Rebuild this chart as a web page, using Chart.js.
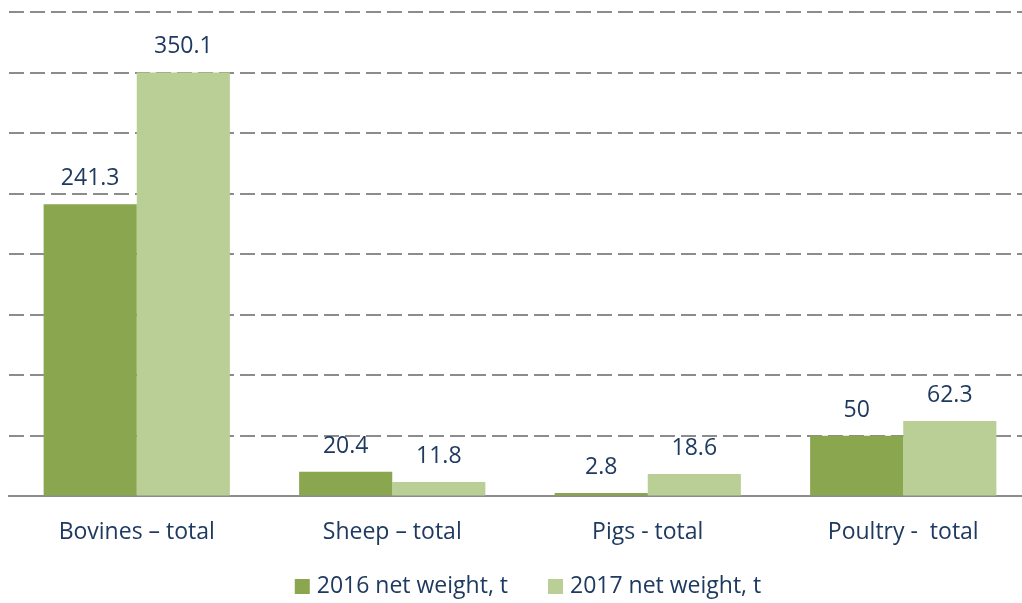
<!DOCTYPE html>
<html>
<head>
<meta charset="utf-8">
<script src="https://cdn.jsdelivr.net/npm/chart.js@4"></script>
<style>
  html, body { margin: 0; padding: 0; background: #fff; overflow: hidden; }
  #wrap { width: 1032px; height: 603px; }
</style>
</head>
<body>
<div id="wrap"><canvas id="chart"></canvas></div>
<script>
const categories = ["Bovines \u2013 total", "Sheep \u2013 total", "Pigs - total", "Poultry -  total"];
const seriesNames = ["2016 net weight, t", "2017 net weight, t"];
const values2016 = [241.3, 20.4, 2.8, 50];
const values2017 = [350.1, 11.8, 18.6, 62.3];

const textColor = "#1f3a60";
const fontFamily = "'Open Sans', Lato, sans-serif";
const seriesColors = ["#8aa64f", "#b9cf96"];

// draws the value above each bar
const valueLabels = {
  id: "valueLabels",
  afterDatasetsDraw(chart) {
    const ctx = chart.ctx;
    ctx.save();
    ctx.fillStyle = textColor;
    ctx.font = "23px " + fontFamily;
    ctx.textAlign = "center";
    ctx.textBaseline = "alphabetic";
    chart.data.datasets.forEach((ds, i) => {
      chart.getDatasetMeta(i).data.forEach((bar, j) => {
        ctx.fillText(String(ds.data[j]), bar.x, bar.y - 19);
      });
    });
    ctx.restore();
  }
};

// simple legend row under the axis (built-in one can't do the spacing)
const bottomLegend = {
  id: "bottomLegend",
  afterDraw(chart) {
    const ctx = chart.ctx;
    const box = 15, gap = 7, itemGap = 40;
    ctx.save();
    ctx.font = "23px " + fontFamily;
    ctx.textBaseline = "middle";
    const items = chart.data.datasets.map(ds => ({
      label: ds.label, color: ds.backgroundColor, w: ctx.measureText(ds.label).width
    }));
    let total = items.reduce((s, it) => s + box + gap + it.w, 0) + itemGap * (items.length - 1);
    let x = 528 - total / 2;
    const y = 586;
    items.forEach(it => {
      ctx.fillStyle = it.color;
      ctx.fillRect(x, y - 7, box, box);
      x += box + gap;
      ctx.fillStyle = textColor;
      ctx.fillText(it.label, x, y);
      x += it.w + itemGap;
    });
    ctx.restore();
  }
};

new Chart(document.getElementById("chart"), {
  type: "bar",
  data: {
    labels: categories,
    datasets: [
      { label: seriesNames[0], data: values2016, backgroundColor: seriesColors[0] },
      { label: seriesNames[1], data: values2017, backgroundColor: seriesColors[1] }
    ]
  },
  options: {
    responsive: true,
    maintainAspectRatio: false,
    animation: false,
    layout: { padding: { left: 9, right: 1, top: 12, bottom: 43 } },
    datasets: { bar: { categoryPercentage: 0.729, barPercentage: 1.0 } },
    plugins: {
      legend: { display: false },
      tooltip: { enabled: false }
    },
    scales: {
      x: {
        grid: { display: false },
        border: { color: "#8c8c8c", width: 2 },
        ticks: { color: textColor, font: { size: 23, family: fontFamily }, padding: 14 }
      },
      y: {
        min: 0,
        max: 400,
        ticks: { display: false, stepSize: 50 },
        border: { display: false, dash: [15, 6] },
        grid: { color: "#8c8c8c", lineWidth: 2, drawTicks: false }
      }
    }
  },
  plugins: [valueLabels, bottomLegend]
});
</script>
</body>
</html>
